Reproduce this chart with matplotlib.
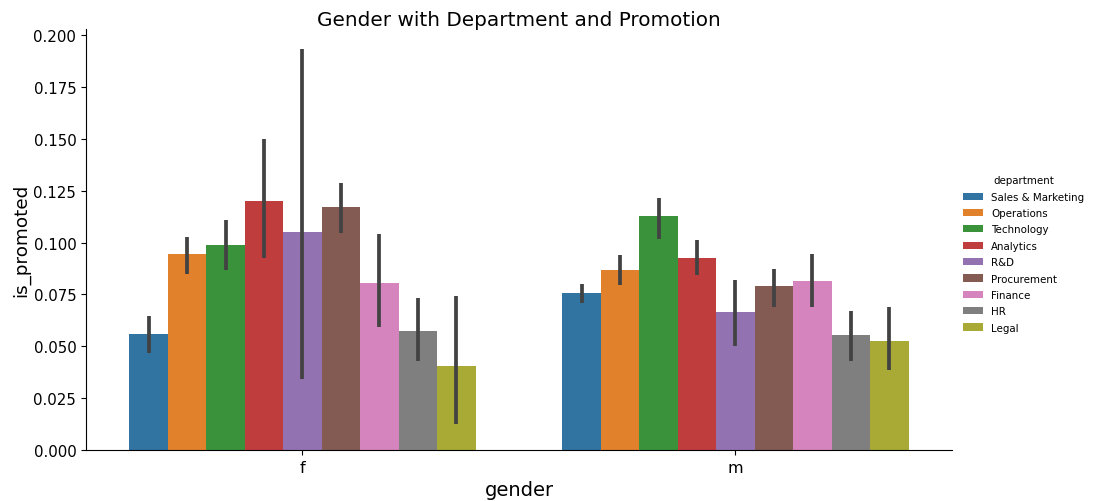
import numpy as np
import matplotlib
matplotlib.use("Agg")
import matplotlib.pyplot as plt
import seaborn as sns

genders = ["f", "m"]
departments = ["Sales & Marketing", "Operations", "Technology", "Analytics", "R&D",
               "Procurement", "Finance", "HR", "Legal"]

# mean promotion rate per department, for f and m
mean_f = [0.0561, 0.0943, 0.0990, 0.1203, 0.1049, 0.1171, 0.0805, 0.0575, 0.0406]
mean_m = [0.0755, 0.0869, 0.1128, 0.0925, 0.0666, 0.0789, 0.0816, 0.0556, 0.0528]
# confidence interval bounds
lo_f = [0.0466, 0.0848, 0.0869, 0.0924, 0.0342, 0.1046, 0.0593, 0.0427, 0.0124]
hi_f = [0.0644, 0.1028, 0.1107, 0.1502, 0.1933, 0.1288, 0.1042, 0.0731, 0.0741]
lo_m = [0.0708, 0.0794, 0.1017, 0.0843, 0.0503, 0.0688, 0.0688, 0.0428, 0.0385]
hi_m = [0.0802, 0.0940, 0.1216, 0.1015, 0.0821, 0.0874, 0.0947, 0.0671, 0.0691]

means = np.array([mean_f, mean_m])
los = np.array([lo_f, lo_m])
his = np.array([hi_f, hi_m])

colors = sns.color_palette("tab10", len(departments), desat=0.75)

fig = plt.figure(figsize=(10.97, 5.02), dpi=100)
ax = fig.add_axes([0.0784, 0.1016, 0.7894, 0.8384])

n = len(departments)
group_w = 0.8
bw = group_w / n
xs = np.arange(len(genders))
for j, dep in enumerate(departments):
    pos = xs - group_w / 2 + bw * (j + 0.5)
    ax.bar(pos, means[:, j], width=bw, color=colors[j], label=dep, linewidth=0)
    ax.vlines(pos, los[:, j], his[:, j], color=".26", linewidth=2.7, zorder=3)

ax.set_xlim(-0.5, len(genders) - 0.5)
ax.set_ylim(0, his.max() * 1.05)
ax.set_xticks(xs)
ax.set_xticklabels(genders)
ax.set_yticks(np.arange(0, 0.2001, 0.025))
ax.set_yticklabels([f"{v:.3f}" for v in np.arange(0, 0.2001, 0.025)])
ax.tick_params(axis="y", labelsize=10.8)
ax.tick_params(axis="x", labelsize=11.5)
for s in ["top", "right"]:
    ax.spines[s].set_visible(False)

ax.set_title("Gender with Department and Promotion", fontsize=14.4, pad=3)
ax.set_xlabel("gender", fontsize=14)
ax.set_ylabel("is_promoted", fontsize=13.2, labelpad=2)

fig.legend(title="department", loc="center left", bbox_to_anchor=(0.869, 0.492),
           frameon=False, fontsize=7.4, title_fontsize=7.4, labelspacing=0.62)

fig.savefig("out.png", dpi=100)
